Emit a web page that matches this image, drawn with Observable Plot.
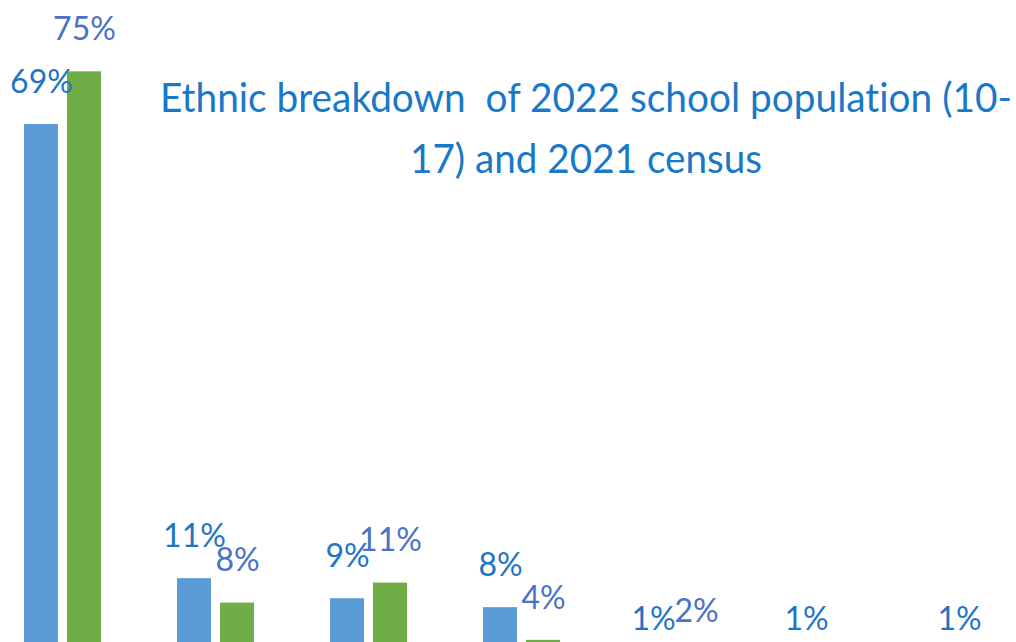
<!DOCTYPE html>
<html><head><meta charset="utf-8">
<script src="https://cdn.jsdelivr.net/npm/d3@7"></script>
<script src="https://cdn.jsdelivr.net/npm/@observablehq/plot@0.6"></script>
<style>
html,body{margin:0;padding:0;overflow:hidden;background:#fff;width:1016px;height:642px}
#wrap{position:relative;width:1016px;height:642px;overflow:hidden}
#title{position:absolute;left:0;top:0;pointer-events:none}
text{font-variant-ligatures:none}
</style></head><body><div id="wrap"></div>
<script>
// Categories (x-axis labels are cropped out of the reference image)
const categories = ["White", "Asian", "Black", "Mixed", "Other", "Gypsy/Roma", "Irish Traveller"];
const seriesNames = ["2022 school population (10-17)", "2021 census"];
const schoolValues = [68.75, 11.46, 8.93, 7.8, 1, 1, 1];
const censusValues = [75.4, 8.38, 10.9, 3.68, 2, null, null];
const titleLines = ["Ethnic breakdown  of 2022 school population (10-", "17) and 2021 census"];

const data = [];
categories.forEach((c, i) => {
  if (schoolValues[i] != null) data.push({category: c, series: seriesNames[0], value: schoolValues[i]});
  if (censusValues[i] != null) data.push({category: c, series: seriesNames[1], value: censusValues[i]});
});
const fmt = d => Math.round(d.value) + "%";

const plot = Plot.plot({
  width: 1016, height: 700,
  marginTop: 0, marginBottom: 31, marginLeft: 0, marginRight: 0,
  style: {background: "transparent", overflow: "visible"},
  fx: {domain: categories, range: [-14, 1057], padding: 0, axis: null},
  x: {domain: seriesNames, paddingInner: 0.21, paddingOuter: 0.884, axis: null},
  y: {domain: [0, 84.4], axis: null},
  color: {domain: seriesNames, range: ["#5b9bd5", "#70ad47"]},
  marks: [
    Plot.barY(data, {fx: "category", x: "series", y: "value", fill: "series"}),
    Plot.text(data.filter(d => d.series === seriesNames[0]), {fx: "category", x: "series", y: "value", text: fmt, fill: "#1f75c4", dy: -42, fontSize: 32, fontFamily: "Lato"}),
    Plot.text(data.filter(d => d.series === seriesNames[1]), {fx: "category", x: "series", y: "value", text: fmt, fill: "#4a72c6", dy: -42, fontSize: 32, fontFamily: "Lato"})
  ]
});
const wrap = document.getElementById("wrap");
wrap.appendChild(plot);

// Title overlay
const svg = d3.create("svg").attr("id", "title").attr("width", 1016).attr("height", 200);
const tl = [{w: 852, y: 112}, {w: 352, y: 173}];
titleLines.forEach((t, i) => {
  svg.append("text")
    .attr("x", 586).attr("y", tl[i].y)
    .attr("text-anchor", "middle")
    .attr("textLength", tl[i].w).attr("lengthAdjust", "spacingAndGlyphs")
    .attr("font-family", "Lato").attr("font-size", 40)
    .attr("fill", "#1a78c8")
    .style("white-space", "pre")
    .style("font-variant-ligatures", "none")
    .text(t);
});
wrap.appendChild(svg.node());
</script></body></html>
